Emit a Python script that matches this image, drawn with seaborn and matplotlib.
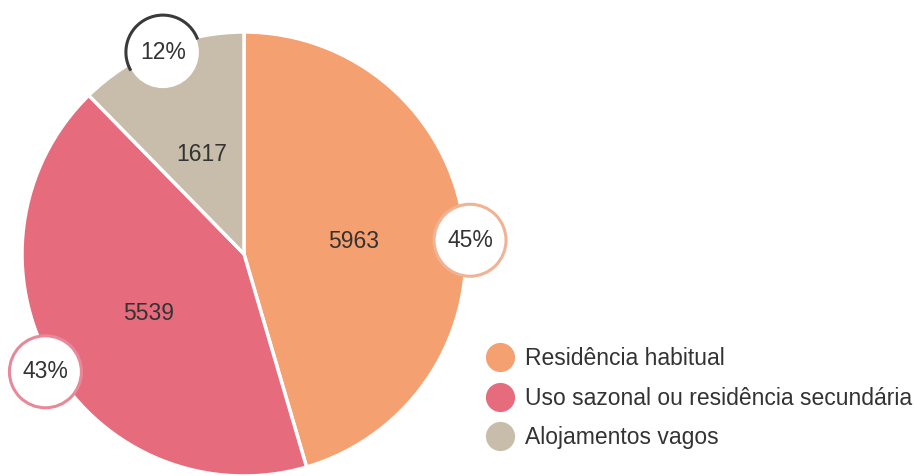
import numpy as np
import matplotlib.pyplot as plt
import seaborn as sns
from matplotlib.lines import Line2D
from matplotlib.patches import Circle, Arc

# --- Data ---
categories = ["Residência habitual", "Uso sazonal ou residência secundária", "Alojamentos vagos"]
values = [5963, 5539, 1617]
pct_labels = ["45%", "43%", "12%"]

colors = ["#F4A070", "#E56B7D", "#C7BDAA"]
ring_colors = ["#F0B394", "#E8899A", "#3A3A3A"]
# bubble placement tweaks: (angle shift in deg, radius factor)
bubble_pos = [(-4.7, 1.02), (0.3, 1.04), (-0.3, 0.98)]

sns.set_theme(style="white")
plt.rcParams['font.family'] = ['Liberation Sans', 'DejaVu Sans']

fig = plt.figure(figsize=(9.15, 4.76), dpi=100)
ax = fig.add_axes([0, 0, 1, 1])

cx, cy, R = 244, 222, 222
wedges, _ = ax.pie(values, colors=colors, startangle=90, counterclock=False,
                   center=(cx, cy), radius=R, frame=True,
                   wedgeprops=dict(edgecolor="white", linewidth=2.5))
ax.set_xlim(0, 915)
ax.set_ylim(0, 476)
ax.set_aspect('equal')
ax.axis('off')

# --- value labels inside, percentage bubbles on the edge ---
for w, v, p, rc, (da, rf) in zip(wedges, values, pct_labels, ring_colors, bubble_pos):
    mid = (w.theta1 + w.theta2) / 2
    ang = np.deg2rad(mid)
    tx = cx + 0.5 * R * np.cos(ang)
    ty = cy + 0.5 * R * np.sin(ang) - 3
    ax.text(tx, ty, str(v), ha='center', va='center', fontsize=16.5, color="#333333")

    bang = np.deg2rad(mid + da)
    bx = cx + rf * R * np.cos(bang)
    by = cy + rf * R * np.sin(bang)
    if p == "12%":
        ax.add_patch(Circle((bx, by), 36, facecolor="white", edgecolor="none", zorder=3))
        ax.add_patch(Arc((bx, by), 74, 74, theta1=20, theta2=210, color=rc, lw=2.2, zorder=4))
    else:
        ax.add_patch(Circle((bx, by), 36, facecolor="white", edgecolor=rc, lw=2.2, zorder=3))
    ax.text(bx, by, p, ha='center', va='center', fontsize=16.5, color="#333333", zorder=5)

# --- Legend ---
handles = [Line2D([], [], marker='o', linestyle='', markersize=21,
                  markerfacecolor=c, markeredgecolor='none') for c in colors]
ax.legend(handles, categories, loc='upper left', bbox_to_anchor=(0.530, 0.271),
          bbox_transform=fig.transFigure, frameon=False, fontsize=16.5,
          handlelength=1.3, handletextpad=0.43, labelspacing=0.73,
          borderpad=0, borderaxespad=0, labelcolor="#333333")

fig.savefig("out.png", dpi=100)
